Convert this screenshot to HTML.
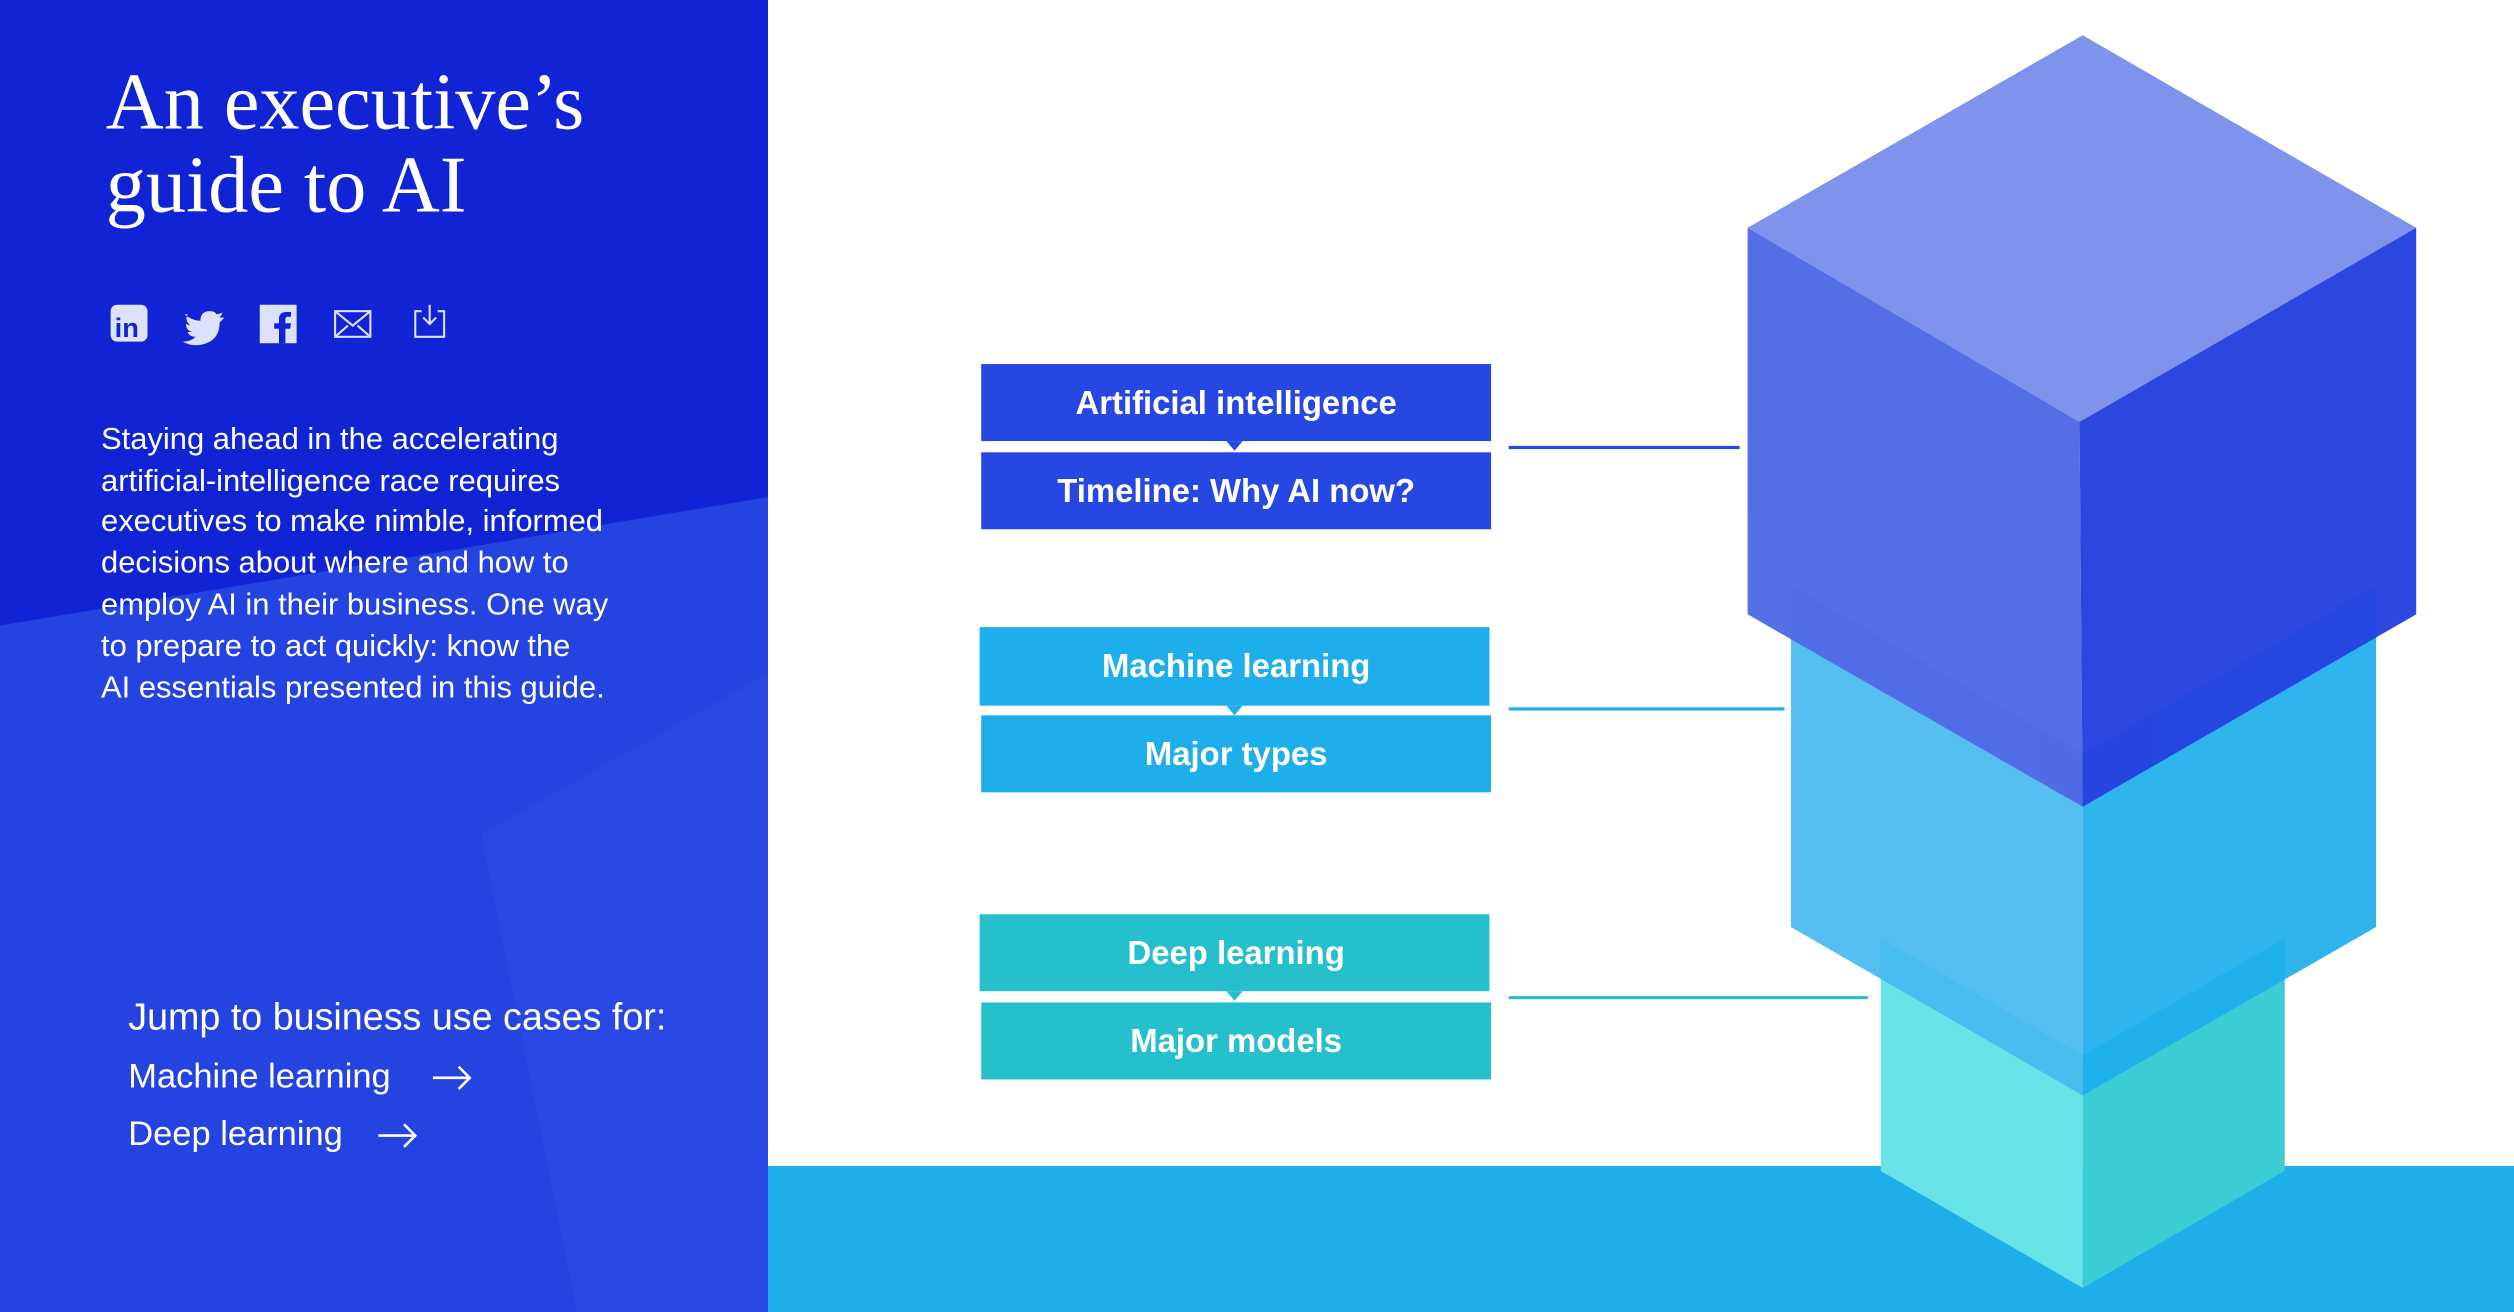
<!DOCTYPE html>
<html><head><meta charset="utf-8"><style>
html,body{margin:0;padding:0;background:#fff;}
svg{display:block;}
</style></head><body>
<svg width="2514" height="1312" viewBox="0 0 1568 818" preserveAspectRatio="none" xmlns="http://www.w3.org/2000/svg">
<rect x="0" y="0" width="1568" height="818" fill="#fff"/>
<!-- left panel -->
<rect x="0" y="0" width="479" height="818" fill="#1024d6"/>
<polygon points="0,390 479,310 479,818 0,818" fill="#2543e0"/>
<polygon points="300,520 479,420 479,818 360,818" fill="#2d4ce4" opacity="0.5"/>
<text x="66" y="80" font-family="Liberation Serif, serif" font-size="50" fill="#fff">An executive’s</text>
<text x="66" y="132" font-family="Liberation Serif, serif" font-size="50" fill="#fff">guide to AI</text>
<!-- icons -->
<g fill="#dde2fb" stroke="none">
<rect x="69" y="190" width="23" height="23" rx="4"/>
<text x="71.5" y="210" font-family="Liberation Sans, sans-serif" font-weight="bold" font-size="17" fill="#1024d6">in</text>
<path d="M115,196 q5,4 10,4 q0,-6 6,-6 q3,0 4,2 l4,-1 l-2,3 l3,0 l-3,3 q0,12 -12,14 q-6,1 -11,-2 q5,0 8,-3 q-4,0 -5,-3 l3,0 q-4,-1 -4,-5 l3,1 q-4,-3 -2,-7z"/>
<rect x="162" y="190" width="23" height="24"/>
<path d="M178,214 v-9 h3 l0.5,-3.5 h-3.5 v-2.5 q0,-1.5 1.5,-1.5 h2 v-3 h-3 q-4.5,0 -4.5,4.5 v2.5 h-3 v3.5 h3 v9z" fill="#1024d6"/>
</g>
<g fill="none" stroke="#dde2fb" stroke-width="1.3">
<rect x="209" y="194" width="22" height="16"/>
<path d="M209,194 l11,9 l11,-9 M209,210 l8,-7 M231,210 l-8,-7"/>
<path d="M263,194 h-4 v16 h18 v-16 h-4 M268,190 v12 M264,198 l4,4 l4,-4"/>
</g>
<g font-family="Liberation Sans, sans-serif" font-size="19.3" fill="#fff">
<text x="63" y="280">Staying ahead in the accelerating</text>
<text x="63" y="306">artificial-intelligence race requires</text>
<text x="63" y="331">executives to make nimble, informed</text>
<text x="63" y="357">decisions about where and how to</text>
<text x="63" y="383">employ AI in their business. One way</text>
<text x="63" y="409">to prepare to act quickly: know the</text>
<text x="63" y="435">AI essentials presented in this guide.</text>
</g>
<g font-family="Liberation Sans, sans-serif" fill="#fff">
<text x="80" y="642" font-size="23.5">Jump to business use cases for:</text>
<text x="80" y="678" font-size="21.5">Machine learning</text>
<text x="80" y="714" font-size="21.5">Deep learning</text>
</g>
<g fill="none" stroke="#fff" stroke-width="1.6">
<path d="M270,672 h23 M286,665 l7,7 l-7,7"/>
<path d="M236,708 h23 M252,701 l7,7 l-7,7"/>
</g>
<!-- bottom band -->
<rect x="479" y="727" width="1089" height="91" fill="#1eaeea"/>
<!-- boxes -->
<rect x="612" y="227" width="318" height="48" fill="#2747e3"/>
<rect x="612" y="282" width="318" height="48" fill="#2747e3"/>
<polygon points="765,275 775,275 770,281" fill="#2747e3"/>
<rect x="611" y="391" width="318" height="49" fill="#1eaeec"/>
<rect x="612" y="446" width="318" height="48" fill="#1eaeec"/>
<polygon points="765,440 775,440 770,446" fill="#1eaeec"/>
<rect x="611" y="570" width="318" height="48" fill="#26c0cc"/>
<rect x="612" y="625" width="318" height="48" fill="#26c0cc"/>
<polygon points="765,618 775,618 770,624" fill="#26c0cc"/>
<g font-family="Liberation Sans, sans-serif" font-weight="bold" font-size="20.5" fill="#fff" text-anchor="middle">
<text x="771" y="258">Artificial intelligence</text>
<text x="771" y="313">Timeline: Why AI now?</text>
<text x="771" y="422">Machine learning</text>
<text x="771" y="477">Major types</text>
<text x="771" y="601">Deep learning</text>
<text x="771" y="656">Major models</text>
</g>
<!-- connector lines -->
<rect x="941" y="278" width="144" height="2" fill="#2747e3"/>
<rect x="941" y="441" width="172" height="2" fill="#1eaeea"/>
<rect x="941" y="621" width="224" height="2" fill="#26c0cc"/>
<!-- bottom cube -->
<polygon points="1173,585 1299,658 1299,803 1173,730" fill="#68e4e8"/>
<polygon points="1299,658 1425,585 1425,730 1299,803" fill="#3ccdd4"/>
<!-- middle cube -->
<g opacity="0.92">
<polygon points="1117,365 1299,470 1299,683 1117,578" fill="#48baf0"/>
<polygon points="1299,470 1482,365 1482,578 1299,683" fill="#1eaeed"/>
</g>
<!-- top cube -->
<g opacity="0.97">
<polygon points="1090,142 1299,22 1507,142 1297,263" fill="#7b8fec"/>
<polygon points="1090,142 1297,263 1299,503 1090,383" fill="#4f6ae6"/>
<polygon points="1297,263 1507,142 1507,383 1299,503" fill="#2642e0"/>
</g>
</svg>
</body></html>
